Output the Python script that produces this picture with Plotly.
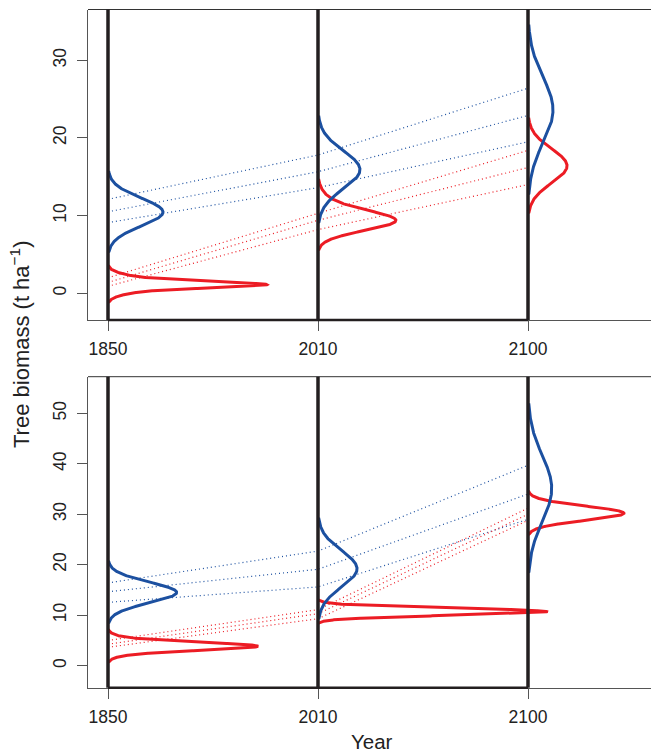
import numpy as np
import plotly.graph_objects as go

# ---------------- data ----------------
years = ["1850", "2010", "2100"]
year_pos = [0, 1, 2]

# density shapes: mixture components (weight, mean, sd) for each year
top_red_shape = [
    [(0.4, 1.1, 0.35), (0.6, 1.15, 0.8)],
    [(0.85, 9.3, 1.25), (0.15, 11.2, 1.5)],
    [(1.0, 16.4, 2.2)],
]
top_blue_shape = [
    [(1.0, 10.45, 1.8)],
    [(1.0, 15.9, 2.45)],
    [(1.0, 23.6, 4.2)],
]
top_red_peak = [0.757, 0.371, 0.186]    # peak density height (x units)
top_blue_peak = [0.262, 0.200, 0.119]

bottom_red_shape = [
    [(0.5, 3.85, 0.7), (0.5, 3.85, 1.1)],
    [(1.0, 10.7, 0.7)],
    [(1.0, 30.2, 1.4)],
]
bottom_blue_shape = [
    [(1.0, 14.5, 2.05)],
    [(1.0, 19.2, 3.6)],
    [(1.0, 35.1, 6.5)],
]
bottom_red_peak = [0.714, 1.089, 0.457]
bottom_blue_peak = [0.327, 0.186, 0.113]

# quantile trajectories (each inner list = one dotted line across the years)
top_blue_q = [[9.1, 13.6, 19.5], [10.5, 15.65, 22.9], [12.1, 17.8, 26.4]]
top_red_q = [[0.9, 8.2, 14.0], [1.4, 9.4, 16.2], [2.0, 10.3, 18.4]]
bottom_blue_q = [[12.55, 15.6, 29.0], [14.65, 19.1, 34.0], [16.4, 22.7, 39.7]]
bottom_red_q = [[3.65, 9.3, 28.8], [4.25, 10.3, 30.0], [5.0, 11.1, 31.2]]

top_yticks = [0, 10, 20, 30]
bottom_yticks = [0, 10, 20, 30, 40, 50]

# ---------------- styling ----------------
RED = "#EC1C24"
BLUE = "#1C50A0"
BLACK = "#231F20"
AXC = "#555555"
FONT = "Liberation Sans, Arial, sans-serif"
PX_PER_UNIT = 210.0   # pixels per category step

fig = go.Figure()


def mixture(y, comps):
    f = np.zeros_like(y)
    for w, m, s in comps:
        f += w / (s * np.sqrt(2 * np.pi)) * np.exp(-0.5 * ((y - m) / s) ** 2)
    return f


def add_density(comps, peak, pos, color, xa, ya):
    lo = min(m - 4 * s for w, m, s in comps)
    hi = max(m + 4 * s for w, m, s in comps)
    y = np.linspace(lo, hi, 900)
    f = mixture(y, comps)
    f = f / f.max()
    off = peak * f
    keep = off * PX_PER_UNIT > 0.9
    y = y[keep]
    off = off[keep]
    x = pos + off
    x = np.concatenate([[pos], x, [pos]])
    y = np.concatenate([[y[0]], y, [y[-1]]])
    fig.add_trace(go.Scatter(x=x, y=y, mode="lines",
                             line=dict(color=color, width=3),
                             xaxis=xa, yaxis=ya, hoverinfo="skip",
                             showlegend=False))


def add_quantiles(qs, color, xa, ya):
    for q in qs:
        fig.add_trace(go.Scatter(x=year_pos, y=q, mode="lines",
                                 line=dict(color=color, width=1.2, dash="1px,3px"),
                                 xaxis=xa, yaxis=ya, hoverinfo="skip",
                                 showlegend=False))


panels = [
    ("x", "y", top_red_shape, top_red_peak, top_blue_shape, top_blue_peak, top_red_q, top_blue_q),
    ("x2", "y2", bottom_red_shape, bottom_red_peak, bottom_blue_shape, bottom_blue_peak, bottom_red_q, bottom_blue_q),
]
for xa, ya, rs, rp, bs, bp, rq, bq in panels:
    add_quantiles(bq, BLUE, xa, ya)
    add_quantiles(rq, RED, xa, ya)
    for i, pos in enumerate(year_pos):
        add_density(rs[i], rp[i], pos, RED, xa, ya)
    for i, pos in enumerate(year_pos):
        add_density(bs[i], bp[i], pos, BLUE, xa, ya)

W, H = 651, 752
L = 88
x_lo = -20 / PX_PER_UNIT
x_hi = (W - 108) / PX_PER_UNIT

top_dom = [1 - 320 / H, 1 - 9.5 / H]
bot_dom = [1 - 687.7 / H, 1 - 376.7 / H]

xcommon = dict(range=[x_lo, x_hi], tickvals=year_pos, ticktext=years,
               ticks="outside", ticklen=10, tickcolor=AXC, tickwidth=1,
               showline=True, linecolor=AXC, linewidth=1, showgrid=False,
               zeroline=False, domain=[0, 1], ticklabelstandoff=3,
               tickfont=dict(size=17.5, family=FONT, color="#222222"))
ycommon = dict(ticks="outside", ticklen=10, tickcolor=AXC, tickwidth=1,
               showline=True, linecolor=AXC, linewidth=1, showgrid=False,
               zeroline=False, tickangle=-90, ticklabelstandoff=4,
               tickfont=dict(size=17.5, family=FONT, color="#222222"))

fig.update_layout(
    width=W, height=H,
    margin=dict(l=L, r=0, t=0, b=0, autoexpand=False),
    paper_bgcolor="white", plot_bgcolor="white",
    showlegend=False,
    xaxis=dict(anchor="y", **xcommon),
    yaxis=dict(anchor="x", domain=top_dom, range=[-3.44, 36.54],
               tickvals=top_yticks, **ycommon),
    xaxis2=dict(anchor="y2", **xcommon),
    yaxis2=dict(anchor="x2", domain=bot_dom, range=[-4.36, 57.25],
                tickvals=bottom_yticks, **ycommon),
)

shapes = []
for xr, dom in [("x", "y domain"), ("x2", "y2 domain")]:
    shapes.append(dict(type="line", xref="paper", yref=dom, x0=0, x1=1, y0=1, y1=1,
                       line=dict(color="#333333", width=1)))
    shapes.append(dict(type="line", xref=xr, yref=dom, x0=year_pos[0], x1=year_pos[-1],
                       y0=0, y1=0, line=dict(color=BLACK, width=2.5)))
    for p in year_pos:
        shapes.append(dict(type="line", xref=xr, yref=dom, x0=p, x1=p, y0=0, y1=1,
                           line=dict(color=BLACK, width=3.5)))
fig.update_layout(shapes=shapes)

fig.add_annotation(text="Year", xref="paper", yref="paper",
                   x=(371.7 - L) / (W - L), y=1 - 741.7 / H,
                   xanchor="center", yanchor="middle", showarrow=False,
                   font=dict(size=20.5, family=FONT, color="#222222"))
fig.add_annotation(text="Tree biomass (t ha<sup>\u22121</sup>)", xref="paper", yref="paper",
                   x=(20 - L) / (W - L), y=1 - 345 / H, textangle=-90,
                   xanchor="center", yanchor="middle", showarrow=False,
                   font=dict(size=22, family=FONT, color="#222222"))

fig.write_html("out.html")
